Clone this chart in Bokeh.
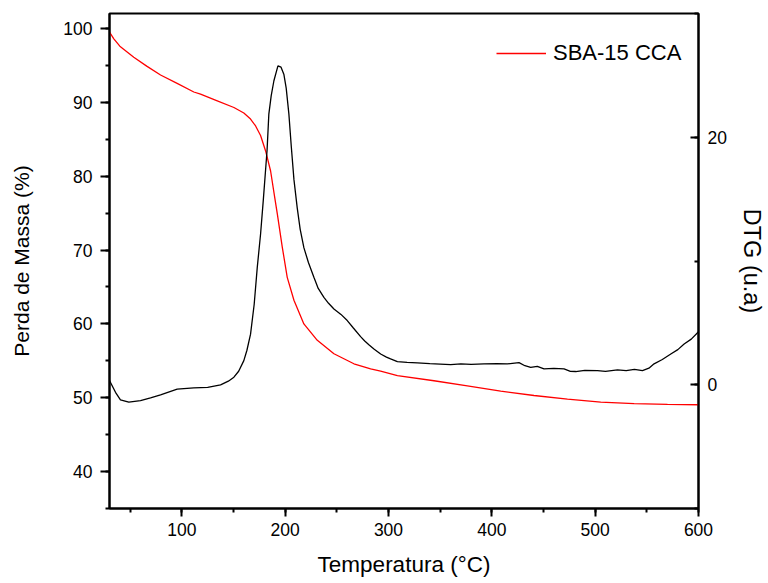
from bokeh.plotting import figure
from bokeh.models import Range1d, LinearAxis, SingleIntervalTicker, Legend, LegendItem
from bokeh.embed import file_html
from bokeh.resources import INLINE

# Mass loss (TGA) curve, left axis
temp_mass = [30, 34.2, 40, 53.5, 66, 79.4, 95, 111.6, 118.1, 134.3, 150.4, 160, 166.5,
             171.4, 176.2, 181, 185.9, 189.8, 192.4, 197.2, 202, 208.5, 218.1, 231.1,
             247.2, 266.5, 282.7, 292.4, 308.6, 344, 376.3, 408.6, 440.8, 473.2, 505.4,
             537.7, 570, 600]
mass = [99.5, 98.6, 97.6, 96.1, 94.9, 93.7, 92.6, 91.4, 91.1, 90.2, 89.3, 88.55, 87.74,
        86.8, 85.5, 83.45, 80.7, 77.2, 74.9, 70.4, 66.3, 63.2, 60.0, 57.77,
        55.96, 54.6, 53.9, 53.6, 53.0, 52.3, 51.6, 50.9, 50.3, 49.8, 49.4,
        49.2, 49.1, 49.05]

# DTG curve, right axis
temp_dtg = [30, 35.8, 40.6, 48.7, 60, 69.7, 79.4, 95.5, 111.6, 125, 137.5, 145, 150.4,
            155, 160, 163, 166.5, 170, 173, 176.2, 178.8, 182.5, 184.2, 186.5, 189.1,
            193, 196, 198.8, 201, 203.6, 206, 208.5, 211.7, 214.5, 218.1, 222.5, 227.8,
            232, 237.5, 242, 247.2, 254, 260.1, 266, 273, 277, 281, 285.9, 292.4, 298,
            302, 308.6, 318, 327.9, 340, 350, 360.2, 370, 380, 392.4, 405, 415, 426.3,
            432, 437.6, 444, 450.5, 460, 469.9, 476, 481.2, 490, 502.2, 510, 521.6,
            530, 538, 545.8, 552, 557, 565, 573.2, 580, 586.1, 593, 600]
dtg = [0.35, -0.6, -1.21, -1.4, -1.27, -1.05, -0.8, -0.35, -0.24, -0.2, 0.0, 0.3, 0.62,
       1.1, 1.96, 2.8, 4.1, 6.5, 9.5, 12.2, 14.9, 19.0, 21.9, 23.4, 24.6,
       25.8, 25.7, 25.1, 24.0, 21.9, 19.2, 16.6, 14.3, 12.6, 11.1, 9.9, 8.7,
       7.8, 7.08, 6.6, 6.14, 5.7, 5.2, 4.6, 3.9, 3.55, 3.25, 2.9, 2.5, 2.25,
       2.1, 1.88, 1.82, 1.78, 1.72, 1.68, 1.64, 1.7, 1.66, 1.70, 1.72, 1.7, 1.8,
       1.55, 1.42, 1.5, 1.29, 1.33, 1.29, 1.1, 1.08, 1.18, 1.16, 1.1, 1.21,
       1.15, 1.25, 1.16, 1.35, 1.70, 2.05, 2.5, 2.85, 3.31, 3.7, 4.3]

series_label = "SBA-15 CCA"
x_title = "Temperatura (°C)"
y_title = "Perda de Massa (%)"
y2_title = "DTG (u.a)"

FONT = "Liberation Sans"

p = figure(width=768, height=583, output_backend="svg", toolbar_location=None,
           x_range=Range1d(30, 600), y_range=Range1d(35, 102.03),
           min_border_left=109, min_border_right=70, min_border_top=13, min_border_bottom=75)
p.extra_y_ranges = {"dtg": Range1d(-10, 30.04)}

p.grid.visible = False
p.outline_line_color = "black"
p.outline_line_width = 2
p.background_fill_color = "white"
p.border_fill_color = "white"

def style_axis(ax):
    ax.axis_line_color = "black"
    ax.axis_line_width = 2
    ax.major_tick_line_width = 2
    ax.minor_tick_line_width = 2
    ax.major_tick_line_color = "black"
    ax.minor_tick_line_color = "black"
    ax.major_label_text_font = FONT
    ax.major_label_text_font_size = "17.5px"
    ax.major_label_text_color = "black"
    ax.axis_label_text_font = FONT
    ax.axis_label_text_font_size = "21px"
    ax.axis_label_text_font_style = "normal"
    ax.axis_label_text_color = "black"

# bottom axis
xa = p.xaxis[0]
xa.ticker = SingleIntervalTicker(interval=100, num_minor_ticks=2)
style_axis(xa)
xa.axis_label_text_font_size = "22.5px"
xa.major_tick_out = 8
xa.major_tick_in = 0
xa.minor_tick_out = 4
xa.minor_tick_in = 0
xa.major_label_standoff = 6
xa.axis_label = x_title
xa.axis_label_standoff = 13

# left axis
ya = p.yaxis[0]
ya.ticker = SingleIntervalTicker(interval=10, num_minor_ticks=2)
style_axis(ya)
ya.major_tick_out = 9
ya.major_tick_in = 0
ya.minor_tick_out = 4
ya.minor_tick_in = 0
ya.major_label_standoff = 8
ya.axis_label = y_title
ya.axis_label_standoff = 27

# right axis
ra = LinearAxis(y_range_name="dtg",
                ticker=SingleIntervalTicker(interval=20, num_minor_ticks=2))
style_axis(ra)
ra.axis_label_text_font_size = "23.5px"
ra.major_tick_out = 0
ra.major_tick_in = 8
ra.minor_tick_out = 0
ra.minor_tick_in = 4
ra.major_label_standoff = 9
ra.axis_label = y2_title
ra.axis_label_standoff = 9
p.add_layout(ra, "right")

r_mass = p.line(temp_mass, mass, line_color="red", line_width=1.3)
r_dtg = p.line(temp_dtg, dtg, line_color="black", line_width=1.3, y_range_name="dtg")

legend = Legend(items=[LegendItem(label=series_label, renderers=[r_mass])],
                location=(387, 442), padding=0, margin=0, spacing=0,
                glyph_width=50, glyph_height=20, label_standoff=7,
                border_line_alpha=0, background_fill_alpha=0,
                label_text_font=FONT, label_text_font_size="22px",
                label_text_color="black")
p.add_layout(legend, "center")

open("out.html", "w").write(file_html(p, INLINE))
